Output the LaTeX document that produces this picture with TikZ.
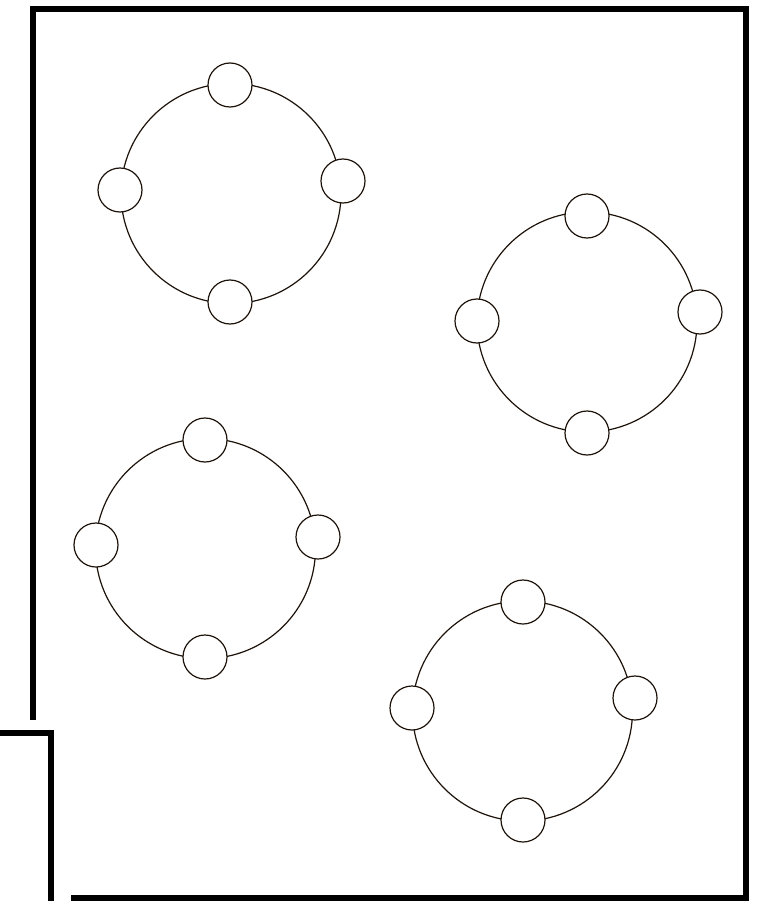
\documentclass[tikz,border=0pt]{standalone}
\begin{document}
\begin{tikzpicture}[x=1pt,y=-1pt,
  frame/.style={line width=6pt,black,line join=miter},
  ring/.style={circle,draw=black!85!brown,line width=1.2pt,minimum size=220pt,inner sep=0pt},
  seat/.style={circle,draw=black!85!brown,line width=1.2pt,fill=white,minimum size=44pt,inner sep=0pt}]
\useasboundingbox[fill=white] (0,0) rectangle (761,901);
% frame
\coordinate (f1) at (33,720);
\coordinate (f2) at (33,9);
\coordinate (f3) at (746,9);
\coordinate (f4) at (746,898);
\coordinate (f5) at (71,898);
\draw[frame] (f1) -- (f2) -- (f3) -- (f4) -- (f5);
\coordinate (n1) at (0,733);
\coordinate (n2) at (51,733);
\coordinate (n3) at (51,901);
\draw[frame] (n1) -- (n2) -- (n3);
% table 1
\node[ring] (A) at (231,193.5) {};
\node[seat] (At) at (230,85) {};
\node[seat] (Ab) at (230,302) {};
\node[seat] (Al) at (120,190) {};
\node[seat] (Ar) at (343,181) {};
% table 2
\node[ring] (B) at (587,322) {};
\node[seat] (Bt) at (587,216) {};
\node[seat] (Bb) at (587,433) {};
\node[seat] (Bl) at (477,321) {};
\node[seat] (Br) at (700,312) {};
% table 3
\node[ring] (C) at (205.5,548.5) {};
\node[seat] (Ct) at (205,440) {};
\node[seat] (Cb) at (205,657) {};
\node[seat] (Cl) at (96,545) {};
\node[seat] (Cr) at (318,537) {};
% table 4
\node[ring] (D) at (522.5,711) {};
\node[seat] (Dt) at (523,602) {};
\node[seat] (Db) at (523,820) {};
\node[seat] (Dl) at (412,708) {};
\node[seat] (Dr) at (635,698) {};
\end{tikzpicture}
\end{document}
